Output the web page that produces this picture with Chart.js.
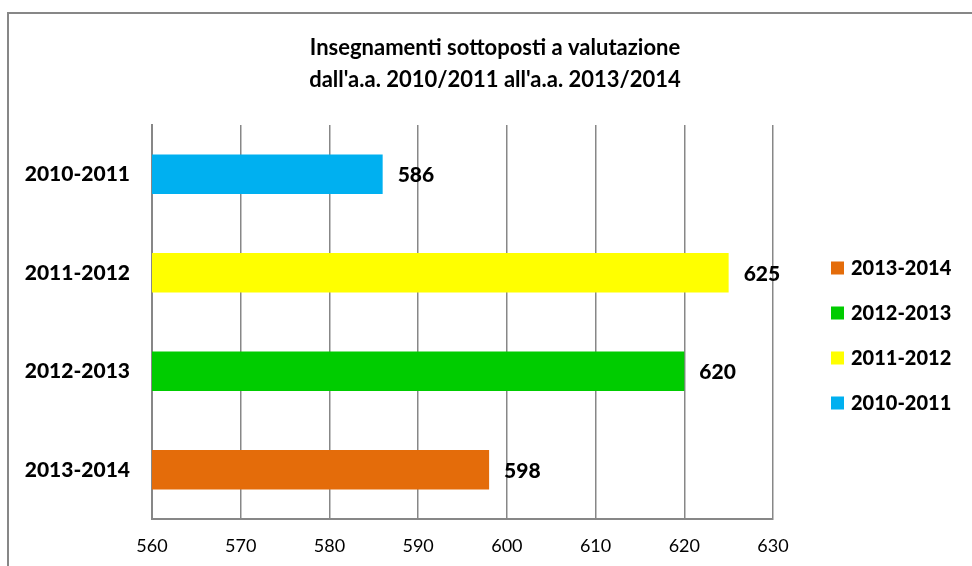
<!DOCTYPE html>
<html>
<head>
<meta charset="utf-8">
<script src="https://cdn.jsdelivr.net/npm/chart.js@4/dist/chart.umd.min.js"></script>
<style>
  html, body { margin: 0; padding: 0; background: #fff; }
  #wrap { position: relative; width: 972px; height: 566px; overflow: hidden; }
  #frame { position: absolute; left: 7px; top: 12px; width: 1000px; height: 600px; border-left: 2px solid #878787; border-top: 2px solid #878787; box-sizing: border-box; }
  canvas { position: absolute; left: 0; top: 0; }
</style>
</head>
<body>
<div id="wrap">
  <div id="frame"></div>
  <canvas id="c" width="972" height="566"></canvas>
</div>
<script>
const titleLines = ["Insegnamenti sottoposti a valutazione", "dall'a.a. 2010/2011 all'a.a. 2013/2014"];
const categories = ["2010-2011", "2011-2012", "2012-2013", "2013-2014"];
const values = [586, 625, 620, 598];
const colors = ["#00B0F0", "#FFFF00", "#00CC00", "#E46C0A"];
const xMin = 560, xMax = 630, xStep = 10;

const FONT = "Lato, 'Open Sans', sans-serif";

const valueLabels = {
  id: 'valueLabels',
  afterDatasetsDraw(chart) {
    const ctx = chart.ctx;
    const meta = chart.getDatasetMeta(0);
    ctx.save();
    ctx.font = "900 21px " + FONT;
    ctx.fillStyle = "#000";
    ctx.textBaseline = "middle";
    ctx.textAlign = "left";
    meta.data.forEach((el, i) => {
      ctx.fillText(String(values[i]), el.x + 15, el.y + 1);
    });
    ctx.restore();
  }
};

const sideLegend = {
  id: 'sideLegend',
  afterDraw(chart) {
    const ctx = chart.ctx;
    ctx.save();
    ctx.font = "900 20px " + FONT;
    ctx.textBaseline = "middle";
    ctx.textAlign = "left";
    const order = categories.map((c, i) => i).reverse();
    const x0 = 831, y0 = 268, gap = 45;
    order.forEach((idx, k) => {
      const y = y0 + k * gap;
      ctx.fillStyle = colors[idx];
      ctx.fillRect(x0, y - 6.5, 13, 13);
      ctx.fillStyle = "#000";
      ctx.fillText(categories[idx], x0 + 20, y + 1);
    });
    ctx.restore();
  }
};

new Chart(document.getElementById('c'), {
  type: 'bar',
  data: {
    labels: categories,
    datasets: [{
      data: values,
      backgroundColor: colors,
      borderWidth: 0,
      barPercentage: 0.8,
      categoryPercentage: 0.5
    }]
  },
  options: {
    indexAxis: 'y',
    responsive: false,
    animation: false,
    devicePixelRatio: 1,
    layout: { padding: { left: 18, right: 0, top: 0, bottom: 0 } },
    plugins: {
      legend: { display: false },
      tooltip: { enabled: false },
      title: {
        display: true,
        text: titleLines,
        color: "#000",
        font: { family: FONT, size: 22, weight: 'bold', lineHeight: '32px' },
        padding: { top: 32, bottom: 29 }
      }
    },
    scales: {
      x: {
        min: xMin, max: xMax,
        ticks: { stepSize: xStep, color: "#000", font: { family: FONT, size: 18 }, padding: 16 },
        grid: { color: "#878787", lineWidth: 1.5, drawTicks: false },
        border: { color: "#878787", width: 2 },
        afterFit(scale) { scale.height = 47; }
      },
      y: {
        ticks: { color: "#000", font: { family: FONT, size: 21, weight: '900' }, padding: 22 },
        grid: { display: false, drawTicks: false },
        border: { color: "#878787", width: 2 },
        afterFit(scale) { scale.width = 134; }
      },
      spacer: {
        type: 'linear',
        position: 'right',
        display: true,
        ticks: { display: false },
        grid: { display: false, drawTicks: false },
        border: { display: false },
        afterFit(scale) { scale.width = 199; }
      }
    }
  },
  plugins: [valueLabels, sideLegend]
});
</script>
</body>
</html>
